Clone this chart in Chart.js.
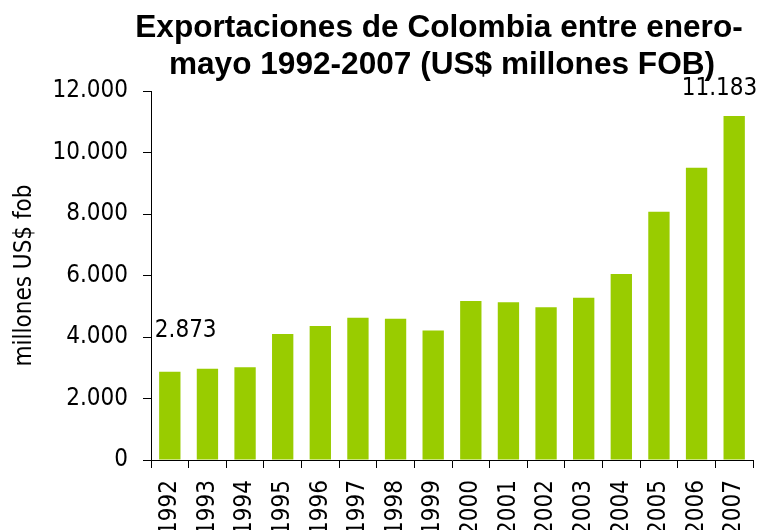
<!DOCTYPE html>
<html>
<head>
<meta charset="utf-8">
<script src="https://cdn.jsdelivr.net/npm/chart.js@4/dist/chart.umd.min.js"></script>
<style>
    html, body { margin: 0; padding: 0; background: #fff; overflow: hidden; }
    #wrap { width: 764px; height: 530px; }
</style>
</head>
<body>
<div id="wrap"><canvas id="grafico" width="764" height="530"></canvas></div>
<script>
// Datos
const anios = ['1992', '1993', '1994', '1995', '1996', '1997', '1998', '1999',
               '2000', '2001', '2002', '2003', '2004', '2005', '2006', '2007'];
const exportaciones = [2873, 2970, 3015, 4100, 4360, 4630, 4595, 4215,
                       5170, 5130, 4965, 5280, 6050, 8075, 9505, 11183];
const ejeYMin = 0;
const ejeYMax = 12000;
const ejeYPaso = 2000;
const titulo = ['Exportaciones de Colombia entre enero-', 'mayo 1992-2007 (US$ millones FOB)'];
const tituloEjeY = 'millones US$ fob';
const etiquetasVisibles = [0, 15];

const fuente = "'DejaVu Sans Condensed', 'DejaVu Sans', sans-serif";

// 2873 -> "2.873"
const formato = (v) => String(v).replace(/\B(?=(\d{3})+(?!\d))/g, '.');

const tituloPlugin = {
    id: 'tituloPlugin',
    afterDraw: (chart) => {
        const ctx = chart.ctx;
        ctx.save();
        ctx.fillStyle = '#000';
        ctx.font = "bold 31.6px 'Liberation Sans', Arial, sans-serif";
        ctx.textAlign = 'center';
        ctx.textBaseline = 'alphabetic';
        ctx.fillText(titulo[0], 439, 37);
        ctx.fillText(titulo[1], 442, 74);
        ctx.restore();
    }
};

// Etiquetas de valor del primer y último año
const etiquetasPlugin = {
    id: 'etiquetasPlugin',
    afterDatasetsDraw: (chart, args, opts) => {
        const ctx = chart.ctx;
        const meta = chart.getDatasetMeta(0);
        ctx.save();
        ctx.fillStyle = '#000';
        ctx.font = '24px ' + fuente;
        ctx.textBaseline = 'alphabetic';
        etiquetasVisibles.forEach((i, k) => {
            const bar = meta.data[i];
            const o = opts.ajustes[k];
            ctx.textAlign = o.align;
            ctx.fillText(formato(exportaciones[i]), bar.x + o.dx, bar.y + o.dy);
        });
        ctx.restore();
    }
};

new Chart(document.getElementById('grafico'), {
    type: 'bar',
    data: {
        labels: anios,
        datasets: [{
            data: exportaciones,
            backgroundColor: '#99cc00',
            borderWidth: 0,
            barPercentage: 0.567,
            categoryPercentage: 1
        }]
    },
    options: {
        responsive: false,
        animation: false,
        devicePixelRatio: 1,
        layout: { padding: { top: 91, right: 11, left: 0, bottom: 0 } },
        plugins: {
            legend: { display: false },
            tooltip: { enabled: false },
            etiquetasPlugin: {
                ajustes: [
                    { dx: -15, dy: -35, align: 'left' },
                    { dx: 23, dy: -21, align: 'right' }
                ]
            }
        },
        scales: {
            x: {
                grid: {
                    display: true,
                    drawOnChartArea: false,
                    offset: true,
                    color: '#000',
                    tickLength: 8
                },
                border: { display: true, color: '#000', width: 1 },
                ticks: {
                    color: '#000',
                    font: { family: fuente, size: 24 },
                    minRotation: 90,
                    maxRotation: 90,
                    padding: 12,
                    autoSkip: false
                },
                afterFit: (s) => {
                    s.height = 70;
                    s.paddingLeft = 0;
                    s.paddingRight = 0;
                }
            },
            y: {
                min: ejeYMin,
                max: ejeYMax,
                grid: {
                    display: true,
                    drawOnChartArea: false,
                    color: '#000',
                    tickLength: 8
                },
                border: { display: true, color: '#000', width: 1 },
                ticks: {
                    stepSize: ejeYPaso,
                    color: '#000',
                    font: { family: fuente, size: 24 },
                    padding: 15,
                    callback: (v) => formato(v)
                },
                title: {
                    display: true,
                    text: tituloEjeY,
                    color: '#000',
                    font: { family: fuente, size: 24 },
                    padding: { top: 10, bottom: 0 }
                },
                afterFit: (s) => {
                    s.width = 151;
                    s.paddingTop = 0;
                    s.paddingBottom = 0;
                }
            }
        }
    },
    plugins: [tituloPlugin, etiquetasPlugin]
});
</script>
</body>
</html>
